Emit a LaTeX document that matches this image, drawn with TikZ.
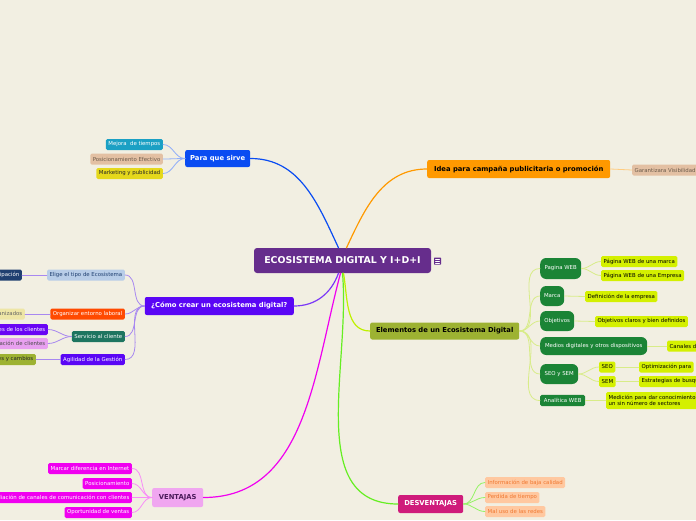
\documentclass[tikz,border=0pt]{standalone}
\usepackage{fontspec}
\setmainfont{DejaVu Sans}
\definecolor{bgc}{HTML}{F2EFE2}
\definecolor{rootc}{HTML}{662D8C}
\definecolor{bluec}{HTML}{0A4CF2}
\definecolor{tealc}{HTML}{1BA0C4}
\definecolor{tanc}{HTML}{E3C0A3}
\definecolor{tantx}{HTML}{6B5B4B}
\definecolor{yelc}{HTML}{E5D81C}
\definecolor{orac}{HTML}{FF9900}
\definecolor{olivec}{HTML}{9DB232}
\definecolor{greenc}{HTML}{1B8436}
\definecolor{limec}{HTML}{D4F000}
\definecolor{limeln}{HTML}{D8EC88}
\definecolor{violc}{HTML}{5A06F5}
\definecolor{violln}{HTML}{A888F0}
\definecolor{lbluec}{HTML}{B8CDE8}
\definecolor{navyc}{HTML}{1F3F70}
\definecolor{redc}{HTML}{FF4A00}
\definecolor{lyelc}{HTML}{EEE6A6}
\definecolor{dtealc}{HTML}{1E7560}
\definecolor{pinkc}{HTML}{E8A0F0}
\definecolor{magc}{HTML}{F000F0}
\definecolor{ventc}{HTML}{F0A6F0}
\definecolor{ventx}{HTML}{4A1A5A}
\definecolor{desvc}{HTML}{CF1B7B}
\definecolor{peachc}{HTML}{FFC8A0}
\definecolor{peachx}{HTML}{F07830}
\definecolor{greenln}{HTML}{66EE22}
\begin{document}
\begin{tikzpicture}[x=1pt,y=-1pt,line cap=round,
  rootbox/.style={fill=rootc,text=white,rounded corners=3pt,minimum width=177pt,minimum height=25pt,font=\bfseries\fontsize{9.4}{11}\selectfont},
  topic/.style={rounded corners=2pt,minimum height=18pt,inner xsep=4pt,font=\bfseries\fontsize{6.8}{8}\selectfont},
  leaf/.style={rounded corners=1.5pt,minimum height=11pt,inner xsep=2.5pt,inner ysep=1pt,font=\fontsize{5.4}{6.4}\selectfont},
  pill/.style={fill=greenc,text=white,rounded corners=6pt,inner xsep=3pt,font=\fontsize{5.4}{6.4}\selectfont},
  branch/.style={line width=1.2pt},
  link/.style={line width=0.8pt}]
\fill[bgc] (0,0) rectangle (696,520);
\useasboundingbox (0,0) rectangle (696,520);

% centre
\node[rootbox] (eco) at (342.5,260.5) {ECOSISTEMA DIGITAL Y I+D+I};
\node[fill=rootc,minimum size=7pt,inner sep=0pt,rounded corners=0.5pt] (note) at (437.5,261) {};
\foreach \dy in {-1.8,0,1.8}
  \draw[white,line width=0.6pt] ([xshift=-2pt,yshift=\dy pt]note.center) -- ([xshift=2pt,yshift=\dy pt]note.center);

% Para que sirve
\node[topic,fill=bluec,text=white,anchor=west,minimum width=65pt,minimum height=17pt] (para) at (185,158.5) {Para que sirve};
\node[leaf,fill=tealc,text=white,anchor=east] (mejora) at (163,144.5) {Mejora\ \ de tiempos};
\node[leaf,fill=tanc,text=tantx,anchor=east] (posic) at (163,159) {Posicionamiento Efectivo};
\node[leaf,fill=yelc,text=black!85,anchor=east] (market) at (163,173.5) {Marketing y publicidad};
\foreach \n in {mejora,posic,market}
  \draw[link,bluec!45] (\n.east) to[out=0,in=180] (para.west);

% Idea
\node[topic,fill=orac,text=black,anchor=west,minimum width=183pt] (idea) at (427,169) {Idea para campaña publicitaria o promoción};
\node[leaf,fill=tanc,text=tantx,anchor=west] (garant) at (632,170) {Garantizara Visibilidad};
\draw[link,orac!50] (idea.east) -- (garant.west);

% Elementos
\node[topic,fill=olivec,text=black,anchor=west,minimum width=149pt,minimum height=17pt] (elem) at (370,331) {Elementos de un Ecosistema Digital};
\node[pill,anchor=west,minimum width=41pt,minimum height=21pt] (web) at (540,268.5) {Pagina WEB};
\node[pill,anchor=west,minimum width=24pt,minimum height=20pt] (marca) at (540,296) {Marca};
\node[pill,anchor=west,minimum width=34pt,minimum height=20pt] (obj) at (540,321) {Objetivos};
\node[pill,anchor=west,minimum width=107pt,minimum height=18pt] (medios) at (540,346) {Medios digitales y otros dispositivos};
\node[pill,anchor=west,minimum width=38pt,minimum height=20pt] (seosem) at (540,374) {SEO y SEM};
\node[pill,anchor=west,minimum width=45pt,minimum height=11pt,rounded corners=1.5pt] (anal) at (540,400.5) {Analítica WEB};
\foreach \n in {web,marca,obj,medios,seosem,anal}
  \draw[link,limeln] (elem.east) to[out=0,in=180] (\n.west);
\node[leaf,fill=limec,anchor=west] (webm) at (601,261.5) {Página WEB de una marca};
\node[leaf,fill=limec,anchor=west] (webe) at (601,275.5) {Página WEB de una Empresa};
\node[leaf,fill=limec,anchor=west] (defin) at (585,296.5) {Definición de la empresa};
\node[leaf,fill=limec,anchor=west] (objc) at (595,321.5) {Objetivos claros y bien definidos};
\node[leaf,fill=limec,anchor=west] (canal) at (667,346) {Canales de};
\node[leaf,fill=limec,anchor=west] (seo) at (599,367) {SEO};
\node[leaf,fill=limec,anchor=west] (sem) at (599,381.5) {SEM};
\node[leaf,fill=limec,anchor=west] (optim) at (639,367) {Optimización para};
\node[leaf,fill=limec,anchor=west] (estra) at (639,381.5) {Estrategias de busqueda};
\node[leaf,fill=limec,anchor=west,align=left,minimum height=17pt] (medic) at (606,400.5) {Medición para dar conocimiento\\un sin número de sectores};
\draw[link,limeln] (web.east) to[out=0,in=180] (webm.west);
\draw[link,limeln] (web.east) to[out=0,in=180] (webe.west);
\draw[link,limeln] (marca.east) -- (defin.west);
\draw[link,limeln] (obj.east) -- (objc.west);
\draw[link,limeln] (medios.east) -- (canal.west);
\draw[link,limeln] (seosem.east) to[out=0,in=180] (seo.west);
\draw[link,limeln] (seosem.east) to[out=0,in=180] (sem.west);
\draw[link,limeln] (seo.east) -- (optim.west);
\draw[link,limeln] (sem.east) -- (estra.west);
\draw[link,limeln] (anal.east) -- (medic.west);

% Como crear
\node[topic,fill=violc,text=white,anchor=east,minimum width=149pt] (crear) at (294,306) {¿Cómo crear un ecosistema digital?};
\node[leaf,fill=lbluec,text=navyc,anchor=east] (elige) at (125,275) {Elige el tipo de Ecosistema};
\node[leaf,fill=redc,text=white,anchor=east] (organ) at (125,314) {Organizar entorno laboral};
\node[leaf,fill=dtealc,text=white,anchor=east] (serv) at (125,336.5) {Servicio al cliente};
\node[leaf,fill=violc,text=white,anchor=east] (agil) at (125,359.5) {Agilidad de la Gestión};
\foreach \n in {elige,organ,serv,agil}
  \draw[link,violln] (\n.east) to[out=0,in=180] (crear.west);
\node[leaf,fill=navyc,text=white,anchor=east] (partic) at (22,275) {Participación};
\node[leaf,fill=lyelc,text=black!60,anchor=east] (procs) at (25,314) {Procesos organizados};
\node[leaf,fill=violc!90!magc,text=white,anchor=east] (neces) at (48,329.5) {Necesidades de los clientes};
\node[leaf,fill=pinkc,text=black!70,anchor=east] (fidel) at (48,343.5) {Fidelización de clientes};
\node[leaf,fill=olivec,text=black!85,anchor=east] (ajust) at (36,359.5) {Ajustes y cambios};
\draw[link,violln] (partic.east) -- (elige.west);
\draw[link,violln] (procs.east) -- (organ.west);
\draw[link,violln] (neces.east) to[out=0,in=180] (serv.west);
\draw[link,violln] (fidel.east) to[out=0,in=180] (serv.west);
\draw[link,violln] (ajust.east) -- (agil.west);

% Ventajas
\node[topic,fill=ventc,text=ventx,anchor=west,minimum width=51pt,minimum height=19pt] (vent) at (152,497.5) {VENTAJAS};
\node[leaf,fill=magc,text=white,anchor=east] (difer) at (132,468.5) {Marcar diferencia en Internet};
\node[leaf,fill=magc,text=white,anchor=east] (posi) at (132,483.5) {Posicionamiento};
\node[leaf,fill=magc,text=white,anchor=east] (ampli) at (132,497.5) {Ampliación de canales de comunicación con clientes};
\node[leaf,fill=magc,text=white,anchor=east] (oport) at (132,512.5) {Oportunidad de ventas};
\foreach \n in {difer,posi,ampli,oport}
  \draw[link,magc!45] (\n.east) to[out=0,in=180] (vent.west);

% Desventajas
\node[topic,fill=desvc,text=white,anchor=west,minimum width=65pt] (desv) at (398,504) {DESVENTAJAS};
\node[leaf,fill=peachc,text=peachx,anchor=west] (infor) at (485,482.5) {Información de baja calidad};
\node[leaf,fill=peachc,text=peachx,anchor=west] (perd) at (485,497.5) {Perdida de tiempo};
\node[leaf,fill=peachc,text=peachx,anchor=west] (maluso) at (485,511.5) {Mal uso de las redes};
\foreach \n in {infor,perd,maluso}
  \draw[link,greenln!70] (desv.east) to[out=0,in=180] (\n.west);

% main branches
\draw[branch,bluec] ([xshift=-4pt]eco.north) to[out=115,in=0] (para.east);
\draw[branch,orac] ([xshift=4pt]eco.north) to[out=65,in=180] (idea.west);
\draw[branch,limec!90!green] ([xshift=1pt]eco.south) to[out=-80,in=180] (elem.west);
\draw[branch,violc!80] ([xshift=-4pt]eco.south) to[out=-110,in=0] (crear.east);
\draw[branch,magc] ([xshift=-2pt]eco.south) to[out=-105,in=0] (vent.east);
\draw[branch,greenln] ([xshift=0pt]eco.south) to[out=-85,in=180] (desv.west);
\end{tikzpicture}
\end{document}
